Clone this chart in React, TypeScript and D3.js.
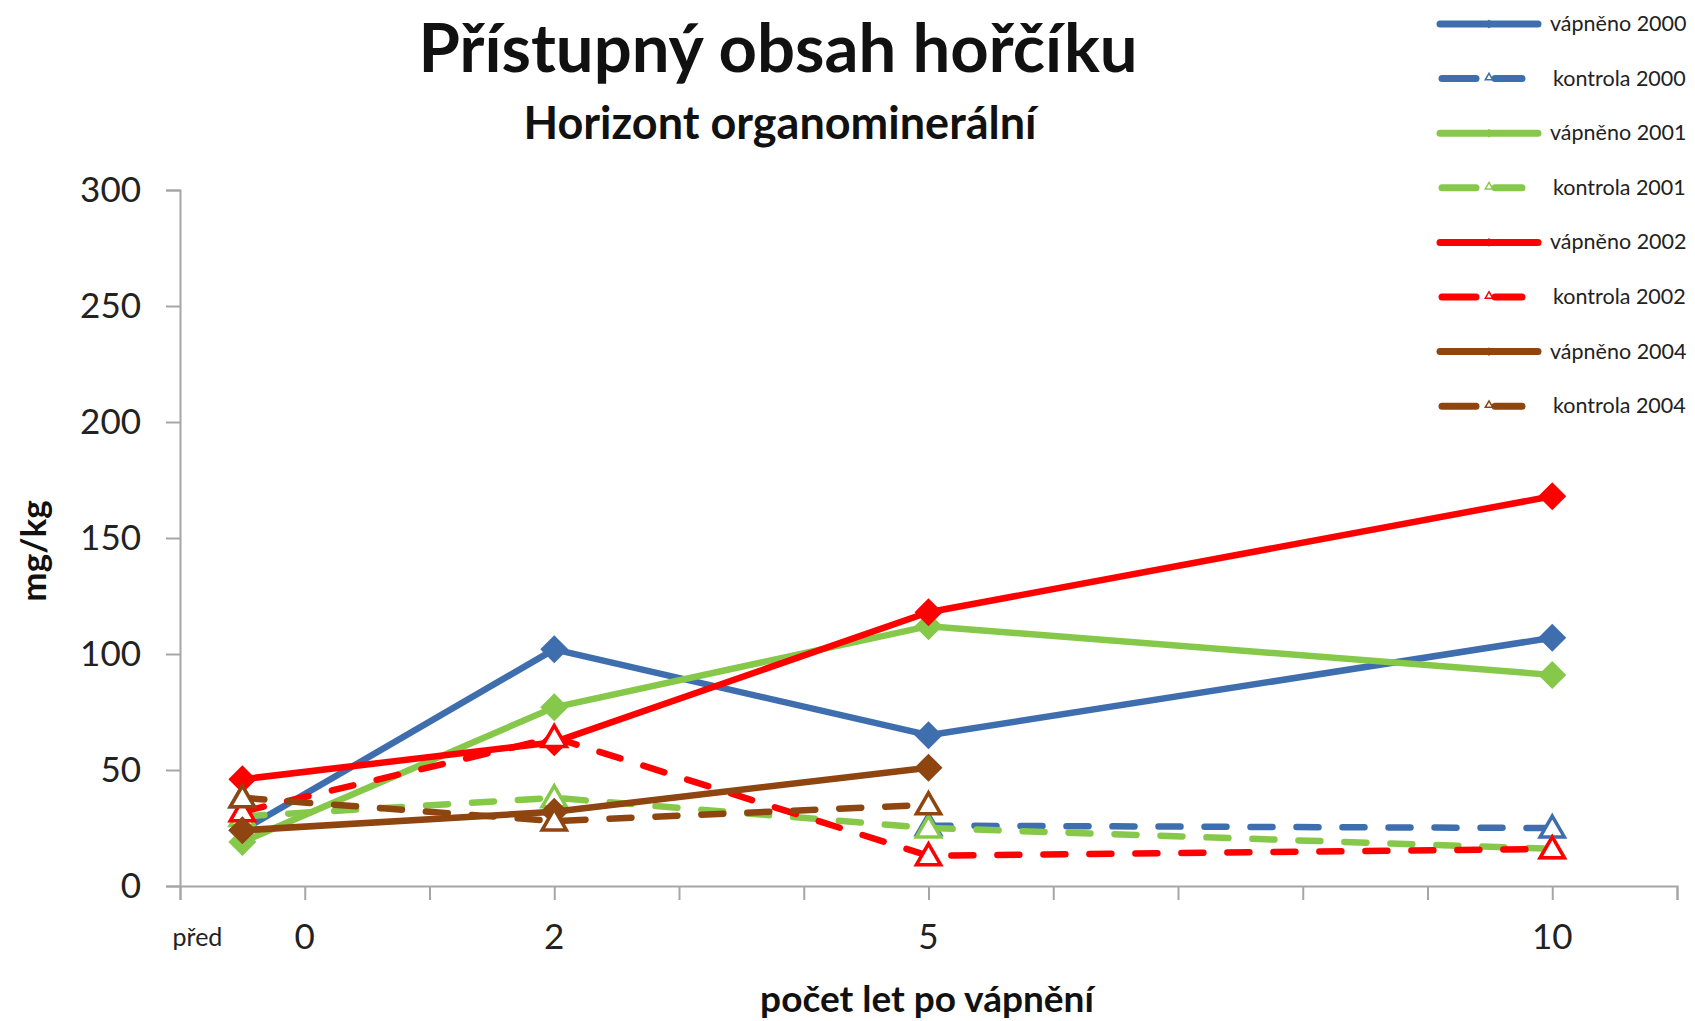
import { useEffect, useRef } from "react";
import * as d3 from "d3";

// x positions: "před" is drawn half a unit left of 0
const xValues = [-0.5, 2, 5, 10];
const xTickLabels = ["0", "2", "5", "10"];
const xTickLabelValues = [0, 2, 5, 10];
const yTicks = [0, 50, 100, 150, 200, 250, 300];

const seriesNames = [
  "vápněno 2000",
  "kontrola 2000",
  "vápněno 2001",
  "kontrola 2001",
  "vápněno 2002",
  "kontrola 2002",
  "vápněno 2004",
  "kontrola 2004",
];
const seriesColors = ["#3F6EAE", "#3F6EAE", "#86C94A", "#86C94A", "#FF0000", "#FF0000", "#8E4510", "#8E4510"];

const vapneno2000 = [24, 102, 65, 107];
const kontrola2000 = [38, null, 26, 25];
const vapneno2001 = [19, 77, 112, 91];
const kontrola2001 = [30, 38, 25, 16];
const vapneno2002 = [46, 62, 118, 168];
const kontrola2002 = [32, 64, 13, 16];
const vapneno2004 = [24, 32, 51, null];
const kontrola2004 = [38, 28, 35, null];

const seriesValues = [
  vapneno2000, kontrola2000, vapneno2001, kontrola2001,
  vapneno2002, kontrola2002, vapneno2004, kontrola2004,
];

const FONT = "Lato, 'Open Sans', sans-serif";

export default function App() {
  const svgRef = useRef<SVGSVGElement>(null);

  useEffect(() => {
    if (!svgRef.current) return;
    const W = 1695;
    const H = 1021;
    const svg = d3.select(svgRef.current);
    svg.selectAll("*").remove();
    svg.attr("width", W).attr("height", H);

    svg.append("rect").attr("width", W).attr("height", H).attr("fill", "#fff");

    const x = d3.scaleLinear().domain([-1, 11]).range([180, 1677]);
    const y = d3.scaleLinear().domain([0, 300]).range([886, 190]);

    const axisColor = "#a6a6a6";

    // Y axis
    svg.append("g")
      .attr("transform", `translate(${x(-1)},0)`)
      .call(d3.axisLeft(y).tickValues(yTicks).tickSize(14).tickPadding(25).tickFormat((d) => String(d)))
      .call((g) => g.select(".domain").attr("stroke", axisColor).attr("stroke-width", 2))
      .call((g) => g.selectAll(".tick line").attr("stroke", axisColor).attr("stroke-width", 2))
      .call((g) => g.selectAll(".tick text").attr("fill", "#222").attr("font-size", "35px").attr("font-family", FONT));

    // X axis (ticks every unit, labels only for some)
    svg.append("g")
      .attr("transform", `translate(0,${y(0)})`)
      .call(d3.axisBottom(x).tickValues(d3.range(-1, 12)).tickSize(14).tickFormat(() => ""))
      .call((g) => g.select(".domain").attr("stroke", axisColor).attr("stroke-width", 2))
      .call((g) => g.selectAll(".tick line").attr("stroke", axisColor).attr("stroke-width", 2));

    svg.append("g")
      .selectAll("text")
      .data(xTickLabelValues)
      .enter()
      .append("text")
      .attr("x", (d) => x(d))
      .attr("y", y(0) + 63)
      .attr("text-anchor", "middle")
      .attr("fill", "#222")
      .attr("font-size", "35px")
      .attr("font-family", FONT)
      .text((d, i) => xTickLabels[i]);

    svg.append("text")
      .attr("x", x(-0.86))
      .attr("y", y(0) + 60)
      .attr("text-anchor", "middle")
      .attr("fill", "#222")
      .attr("font-size", "25px")
      .attr("font-family", FONT)
      .text("před");

    // Titles
    svg.append("text")
      .attr("x", 778)
      .attr("y", 72)
      .attr("text-anchor", "middle")
      .attr("font-size", "67px")
      .attr("font-weight", "bold")
      .attr("font-family", FONT)
      .attr("fill", "#111")
      .text("Přístupný obsah hořčíku");

    svg.append("text")
      .attr("x", 780)
      .attr("y", 139)
      .attr("text-anchor", "middle")
      .attr("font-size", "45px")
      .attr("font-weight", "bold")
      .attr("font-family", FONT)
      .attr("fill", "#111")
      .text("Horizont organominerální");

    svg.append("text")
      .attr("transform", `translate(46,551) rotate(-90)`)
      .attr("text-anchor", "middle")
      .attr("font-size", "35px")
      .attr("font-weight", "bold")
      .attr("font-family", FONT)
      .attr("fill", "#111")
      .text("mg/kg");

    svg.append("text")
      .attr("x", 927)
      .attr("y", 1012)
      .attr("text-anchor", "middle")
      .attr("font-size", "37px")
      .attr("font-weight", "bold")
      .attr("font-family", FONT)
      .attr("fill", "#111")
      .text("počet let po vápnění");

    // Series
    const line = d3.line<number | null>()
      .defined((d) => d !== null)
      .x((d, i) => x(xValues[i]))
      .y((d) => y(d as number));

    const diamond = d3.symbol().type(d3.symbolDiamond2).size(500);
    const triangle = d3.symbol().type(d3.symbolTriangle2).size(420);

    const plot = svg.append("g");
    seriesValues.forEach((vals, s) => {
      const dashed = seriesNames[s].startsWith("kontrola");
      const color = seriesColors[s];
      plot.append("path")
        .datum(vals)
        .attr("fill", "none")
        .attr("stroke", color)
        .attr("stroke-width", 6.5)
        .attr("stroke-linecap", dashed ? "round" : "butt")
        .attr("stroke-linejoin", "round")
        .attr("stroke-dasharray", dashed ? "22,24" : null)
        .attr("d", line);

      const pts = vals.map((v, i) => ({ v, i })).filter((p) => p.v !== null);
      plot.selectAll(null)
        .data(pts)
        .enter()
        .append("path")
        .attr("transform", (p) => `translate(${x(xValues[p.i])},${y(p.v as number) + (dashed ? 2 : 0)})`)
        .attr("d", dashed ? triangle() : diamond())
        .attr("fill", dashed ? "#fff" : color)
        .attr("stroke", color)
        .attr("stroke-width", dashed ? 3.5 : 0);
    });

    // Legend
    const legend = svg.append("g");
    seriesNames.forEach((name, s) => {
      const ly = 24 + s * 54.6;
      const dashed = name.startsWith("kontrola");
      const color = seriesColors[s];
      if (dashed) {
        legend.append("line")
          .attr("x1", 1442).attr("x2", 1476).attr("y1", ly).attr("y2", ly)
          .attr("stroke", color).attr("stroke-width", 7).attr("stroke-linecap", "round");
        legend.append("line")
          .attr("x1", 1495).attr("x2", 1522).attr("y1", ly).attr("y2", ly)
          .attr("stroke", color).attr("stroke-width", 7).attr("stroke-linecap", "round");
        legend.append("path")
          .attr("transform", `translate(1489,${ly - 1})`)
          .attr("d", d3.symbol().type(d3.symbolTriangle2).size(40)())
          .attr("fill", "#fff")
          .attr("stroke", color)
          .attr("stroke-width", 1.5);
      } else {
        legend.append("line")
          .attr("x1", 1440).attr("x2", 1538).attr("y1", ly).attr("y2", ly)
          .attr("stroke", color).attr("stroke-width", 7).attr("stroke-linecap", "round");
        legend.append("path")
          .attr("transform", `translate(1489,${ly})`)
          .attr("d", d3.symbol().type(d3.symbolDiamond2).size(50)())
          .attr("fill", color);
      }
      legend.append("text")
        .attr("x", dashed ? 1553 : 1550)
        .attr("y", ly + 7)
        .attr("font-size", "21.5px")
        .attr("font-family", FONT)
        .attr("fill", "#222")
        .text(name);
    });
  }, []);

  return <svg ref={svgRef} style={{ position: "absolute", left: 0, top: 0, display: "block" }} />;
}
